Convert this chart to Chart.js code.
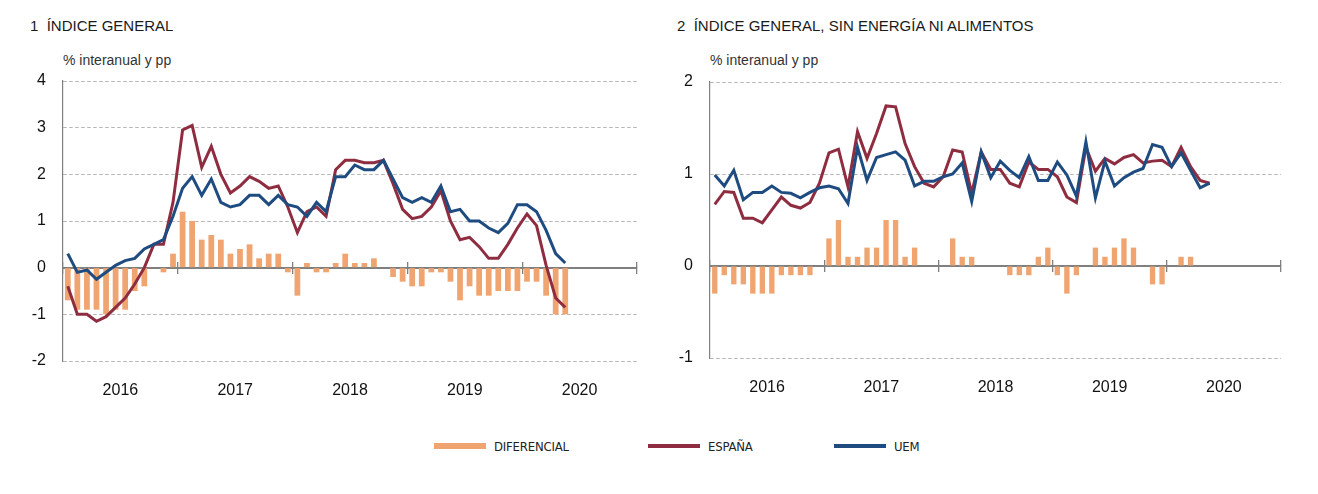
<!DOCTYPE html>
<html lang="es">
<head>
<meta charset="utf-8">
<title>Índice general</title>
<script src="https://cdn.jsdelivr.net/npm/chart.js@4.4.1/dist/chart.umd.min.js"></script>
<style>
  html, body { margin: 0; padding: 0; background: #fff; }
  body { width: 1318px; height: 494px; position: relative; overflow: hidden;
         font-family: "Liberation Sans", Arial, sans-serif; color: #1a1a1a; }
  .titulo { position: absolute; top: 17px; font-size: 15px; line-height: 18px; white-space: pre; }
  .unidad { position: absolute; top: 52px; font-size: 14px; line-height: 16px; color: #333; }
  .panel { position: absolute; top: 0; width: 659px; height: 400px; }
  .leyenda { position: absolute; top: 438px; height: 16px; display: flex; align-items: center;
             font-family: "Liberation Sans Narrow", "DejaVu Sans Condensed", sans-serif;
             font-size: 13px; letter-spacing: -0.2px; color: #222; }
  .leyenda span.marca { display: inline-block; width: 52px; margin-right: 8px; }
</style>
</head>
<body>
<div class="titulo" style="left:30px">1  ÍNDICE GENERAL</div>
<div class="unidad" style="left:63px">% interanual y pp</div>
<div class="titulo" style="left:677px">2  ÍNDICE GENERAL, SIN ENERGÍA NI ALIMENTOS</div>
<div class="unidad" style="left:710px">% interanual y pp</div>

<div class="panel" style="left:0"><canvas id="grafico1"></canvas></div>
<div class="panel" style="left:659px"><canvas id="grafico2"></canvas></div>

<div class="leyenda" style="left:434px"><span class="marca" style="height:6px;background:#F0A470"></span>DIFERENCIAL</div>
<div class="leyenda" style="left:648px"><span class="marca" style="height:4px;background:#8F2D40"></span>ESPAÑA</div>
<div class="leyenda" style="left:834px"><span class="marca" style="height:4px;background:#1F4C80"></span>UEM</div>

<script>
// años del eje y meses (ene 2016 - dic 2020)
const anios = ['2016', '2017', '2018', '2019', '2020'];
const meses = [];
anios.forEach(a => { for (let m = 1; m <= 12; m++) meses.push(a + '-' + String(m).padStart(2, '0')); });

// 1 Índice general
const espana1 = [-0.4, -1.0, -1.0, -1.15, -1.05, -0.85, -0.65, -0.35, 0.0, 0.5, 0.5, 1.4,
  2.95, 3.05, 2.15, 2.6, 2.0, 1.6, 1.75, 1.95, 1.85, 1.7, 1.75, 1.3,
  0.75, 1.2, 1.3, 1.1, 2.1, 2.3, 2.3, 2.25, 2.25, 2.3, 1.8, 1.25,
  1.05, 1.1, 1.3, 1.65, 1.0, 0.6, 0.65, 0.45, 0.2, 0.2, 0.5, 0.85,
  1.15, 0.9, 0.05, -0.65, -0.85];
const uem1 = [0.3, -0.1, -0.05, -0.25, -0.1, 0.05, 0.15, 0.2, 0.4, 0.5, 0.6, 1.1,
  1.7, 1.95, 1.55, 1.9, 1.4, 1.3, 1.35, 1.55, 1.55, 1.35, 1.55, 1.35,
  1.3, 1.1, 1.4, 1.2, 1.95, 1.95, 2.2, 2.1, 2.1, 2.3, 1.9, 1.5,
  1.4, 1.5, 1.4, 1.75, 1.2, 1.25, 1.0, 1.0, 0.85, 0.75, 0.95, 1.35,
  1.35, 1.2, 0.8, 0.3, 0.1];
const dif1 = [-0.7, -0.9, -0.9, -0.9, -1.0, -0.9, -0.9, -0.5, -0.4, 0, -0.1, 0.3,
  1.2, 1.0, 0.6, 0.7, 0.6, 0.3, 0.4, 0.5, 0.2, 0.3, 0.3, -0.1,
  -0.6, 0.1, -0.1, -0.1, 0.1, 0.3, 0.1, 0.1, 0.2, 0, -0.2, -0.3,
  -0.4, -0.4, -0.1, -0.1, -0.3, -0.7, -0.4, -0.6, -0.6, -0.5, -0.5, -0.5,
  -0.3, -0.3, -0.6, -1.0, -1.0];

// 2 Índice general, sin energía ni alimentos
const espana2 = [0.67, 0.81, 0.80, 0.52, 0.52, 0.47, 0.61, 0.75, 0.66, 0.63, 0.69, 0.9,
  1.23, 1.27, 0.86, 1.46, 1.17, 1.44, 1.74, 1.73, 1.33, 1.08, 0.9, 0.86,
  0.97, 1.26, 1.24, 0.79, 1.24, 1.05, 1.05, 0.9, 0.86, 1.13, 1.05, 1.05,
  0.97, 0.75, 0.69, 1.29, 1.03, 1.17, 1.11, 1.18, 1.21, 1.12, 1.14, 1.15,
  1.08, 1.29, 1.08, 0.93, 0.9];
const uem2 = [0.99, 0.87, 1.04, 0.72, 0.80, 0.80, 0.87, 0.80, 0.79, 0.74, 0.80, 0.85,
  0.87, 0.84, 0.68, 1.29, 0.93, 1.18, 1.21, 1.24, 1.15, 0.87, 0.92, 0.92,
  0.97, 1.0, 1.12, 0.70, 1.24, 0.96, 1.14, 1.04, 0.96, 1.19, 0.93, 0.93,
  1.13, 0.99, 0.76, 1.35, 0.74, 1.14, 0.87, 0.96, 1.02, 1.06, 1.32, 1.29,
  1.08, 1.23, 1.04, 0.85, 0.9];
const dif2 = [-0.3, -0.1, -0.2, -0.2, -0.3, -0.3, -0.3, -0.1, -0.1, -0.1, -0.1, 0,
  0.3, 0.5, 0.1, 0.1, 0.2, 0.2, 0.5, 0.5, 0.1, 0.2, 0, 0,
  0, 0.3, 0.1, 0.1, 0, 0, 0, -0.1, -0.1, -0.1, 0.1, 0.2,
  -0.1, -0.3, -0.1, 0, 0.2, 0.1, 0.2, 0.3, 0.2, 0, -0.2, -0.2,
  0, 0.1, 0.1, 0, 0];

const fuente = '"Liberation Sans", Arial, sans-serif';

// eje lineal 0-60 meses pegado a la línea del cero, solo para las marcas de año
function ejeMarcas(largo, conLinea) {
  return {
    type: 'linear', min: 0, max: 60, position: { y: 0 }, offset: false,
    ticks: { stepSize: 12, display: false },
    grid: { offset: false, drawOnChartArea: false, drawTicks: true, tickLength: largo,
            color: '#808080', lineWidth: 1.3 },
    border: { display: conLinea, color: '#808080', width: 2 },
    afterFit(s) { s.height = 0; }
  };
}

function crearPanel(id, espana, uem, dif, yMin, yMax, anchoEje, pad, altoAbajo, anchoBarra) {
  const ctx = document.getElementById(id).getContext('2d');
  return new Chart(ctx, {
    type: 'bar',
    data: {
      labels: meses,
      datasets: [
        { type: 'line', label: 'UEM', data: uem, borderColor: '#1F4C80', borderWidth: 3,
          pointRadius: 0, tension: 0, fill: false, order: 0, xAxisID: 'x', yAxisID: 'y' },
        { type: 'line', label: 'ESPAÑA', data: espana, borderColor: '#8F2D40', borderWidth: 3,
          pointRadius: 0, tension: 0, fill: false, order: 1, xAxisID: 'x', yAxisID: 'y' },
        { type: 'bar', label: 'DIFERENCIAL', data: dif, backgroundColor: '#F0A470',
          borderWidth: 0, categoryPercentage: 1, barPercentage: anchoBarra, order: 2,
          xAxisID: 'x', yAxisID: 'y' }
      ]
    },
    options: {
      responsive: true,
      maintainAspectRatio: false,
      animation: false,
      layout: { padding: pad },
      plugins: { legend: { display: false }, tooltip: { enabled: false } },
      scales: {
        x: { type: 'category', display: false, offset: true },
        xMarcas: ejeMarcas(5, true),
        xMarcasArriba: ejeMarcas(-6, false),
        xAnios: {
          type: 'linear', min: 0, max: 60, position: 'bottom', offset: false,
          afterBuildTicks(s) { s.ticks = anios.map((a, i) => ({ value: 6 + 12 * i })); },
          ticks: {
            callback: v => anios[Math.round((v - 6) / 12)],
            font: { family: fuente, size: 16 }, color: '#111', padding: 12,
            autoSkip: false, maxRotation: 0
          },
          grid: { display: false, offset: false },
          border: { display: false },
          afterFit(s) { s.height = altoAbajo; }
        },
        y: {
          min: yMin, max: yMax,
          ticks: { stepSize: 1, font: { family: fuente, size: 16 }, color: '#111', padding: 17 },
          grid: {
            drawTicks: false, lineWidth: 1,
            color: c => (c.tick && c.tick.value === 0) ? 'rgba(0,0,0,0)' : '#b5b5b5'
          },
          border: { display: true, color: '#808080', width: 1.2, dash: [3.5, 2.5] },
          afterFit(s) { s.width = anchoEje; }
        }
      }
    }
  });
}

crearPanel('grafico1', espana1, uem1, dif1, -2, 4, 63, { top: 81, right: 22, left: 0, bottom: 0 }, 39, 0.6);
crearPanel('grafico2', espana2, uem2, dif2, -1, 2, 51, { top: 82, right: 37, left: 0, bottom: 0 }, 42, 0.56);
</script>
</body>
</html>
